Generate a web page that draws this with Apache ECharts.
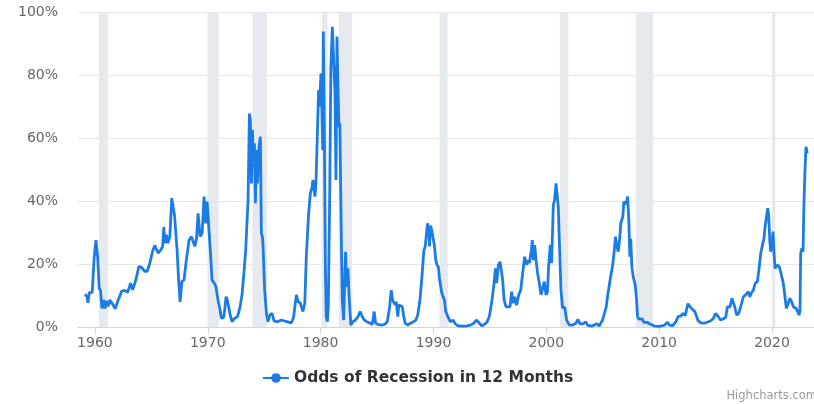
<!DOCTYPE html>
<html>
<head>
<meta charset="utf-8">
<script src="https://cdn.jsdelivr.net/npm/echarts@6/dist/echarts.min.js"></script>
<style>
  html, body { margin: 0; padding: 0; background: #ffffff; }
  #chart { width: 814px; height: 404px; }
</style>
</head>
<body>
<div id="chart"></div>
<script>
// Odds of a US recession within 12 months (%), by decimal year
const dates = [
  1959.12, 1959.3, 1959.38, 1959.5, 1959.76, 1959.94, 1960.09, 1960.24, 1960.38, 1960.5,
  1960.62, 1960.77, 1960.9, 1961.03, 1961.2, 1961.33, 1961.56, 1961.8, 1962.06, 1962.36,
  1962.65, 1962.9, 1963.16, 1963.34, 1963.63, 1963.9, 1964.13, 1964.42, 1964.63, 1964.87,
  1965.1, 1965.3, 1965.46, 1965.6, 1965.84, 1966.0, 1966.1, 1966.22, 1966.34, 1966.46,
  1966.64, 1966.81, 1966.9, 1967.05, 1967.15, 1967.28, 1967.43, 1967.55, 1967.7, 1967.9,
  1968.1, 1968.35, 1968.55, 1968.85, 1969.0, 1969.14, 1969.32, 1969.5, 1969.67, 1969.82,
  1969.94, 1970.09, 1970.24, 1970.38, 1970.56, 1970.71, 1970.91, 1971.09, 1971.2, 1971.4,
  1971.5, 1971.62, 1971.73, 1971.86, 1971.97, 1972.15, 1972.39, 1972.63, 1972.86, 1973.04,
  1973.2, 1973.36, 1973.45, 1973.57, 1973.69, 1973.78, 1973.87, 1973.96, 1974.04, 1974.13,
  1974.22, 1974.31, 1974.4, 1974.51, 1974.66, 1974.75, 1974.84, 1974.9, 1975.04, 1975.2,
  1975.34, 1975.51, 1975.7, 1975.87, 1976.2, 1976.5, 1976.8, 1977.0, 1977.4, 1977.6,
  1977.85, 1978.0, 1978.2, 1978.43, 1978.6, 1978.73, 1978.8, 1978.94, 1979.09, 1979.24,
  1979.32, 1979.44, 1979.5, 1979.59, 1979.73, 1979.82, 1979.91, 1980.03, 1980.09, 1980.18,
  1980.24, 1980.33, 1980.42, 1980.5, 1980.6, 1980.68, 1980.8, 1980.91, 1981.04, 1981.15,
  1981.27, 1981.36, 1981.45, 1981.53, 1981.62, 1981.7, 1981.83, 1981.92, 1982.04, 1982.1,
  1982.21, 1982.3, 1982.42, 1982.54, 1982.68, 1982.86, 1983.1, 1983.33, 1983.5, 1983.68,
  1983.87, 1984.1, 1984.34, 1984.57, 1984.75, 1984.87, 1985.06, 1985.37, 1985.66, 1985.9,
  1986.1, 1986.26, 1986.37, 1986.5, 1986.6, 1986.7, 1986.84, 1986.93, 1987.08, 1987.23,
  1987.37, 1987.49, 1987.73, 1987.96, 1988.2, 1988.44, 1988.6, 1988.8, 1988.98, 1989.15,
  1989.27, 1989.38, 1989.47, 1989.56, 1989.65, 1989.74, 1989.85, 1989.97, 1990.09, 1990.2,
  1990.32, 1990.44, 1990.53, 1990.62, 1990.74, 1990.85, 1990.97, 1991.09, 1991.27, 1991.5,
  1991.74, 1991.9, 1992.15, 1992.5, 1992.88, 1993.27, 1993.57, 1993.83, 1994.07, 1994.27,
  1994.51, 1994.75, 1994.96, 1995.19, 1995.37, 1995.49, 1995.6, 1995.75, 1995.9, 1996.02,
  1996.13, 1996.26, 1996.43, 1996.6, 1996.78, 1996.93, 1997.05, 1997.2, 1997.37, 1997.55,
  1997.73, 1997.9, 1998.08, 1998.26, 1998.37, 1998.5, 1998.67, 1998.76, 1998.85, 1998.97,
  1999.09, 1999.23, 1999.38, 1999.53, 1999.68, 1999.82, 1999.97, 2000.1, 2000.2, 2000.35,
  2000.47, 2000.62, 2000.73, 2000.86, 2000.97, 2001.06, 2001.18, 2001.3, 2001.44, 2001.62,
  2001.8, 2002.04, 2002.33, 2002.6, 2002.8, 2002.98, 2003.2, 2003.5, 2003.66, 2003.96,
  2004.25, 2004.45, 2004.68, 2004.98, 2005.15, 2005.31, 2005.42, 2005.56, 2005.7, 2005.86,
  2006.0, 2006.13, 2006.25, 2006.37, 2006.5, 2006.6, 2006.78, 2006.87, 2006.96, 2007.08,
  2007.2, 2007.31, 2007.4, 2007.48, 2007.58, 2007.7, 2007.87, 2007.98, 2008.08, 2008.2,
  2008.5, 2008.63, 2008.8, 2008.97, 2009.15, 2009.3, 2009.56, 2010.0, 2010.44, 2010.74,
  2010.9, 2011.18, 2011.47, 2011.68, 2011.92, 2012.12, 2012.3, 2012.55, 2012.74, 2012.95,
  2013.16, 2013.28, 2013.45, 2013.69, 2014.0, 2014.3, 2014.57, 2014.8, 2015.0, 2015.2,
  2015.45, 2015.69, 2015.9, 2016.04, 2016.16, 2016.27, 2016.46, 2016.58, 2016.7, 2016.87,
  2017.05, 2017.22, 2017.46, 2017.64, 2017.75, 2017.9, 2018.04, 2018.16, 2018.34, 2018.52,
  2018.7, 2018.87, 2019.0, 2019.15, 2019.29, 2019.38, 2019.5, 2019.62, 2019.7, 2019.8,
  2019.88, 2020.0, 2020.09, 2020.18, 2020.27, 2020.47, 2020.65, 2020.83, 2021.0, 2021.15,
  2021.27, 2021.42, 2021.59, 2021.74, 2021.89, 2022.0, 2022.15, 2022.27, 2022.39, 2022.48,
  2022.54, 2022.65, 2022.75, 2022.83, 2022.92, 2023.01, 2023.1, 2023.13
];

const odds = [
  10.4, 9.6, 7.7, 10.9, 11.0, 22.3, 27.6, 22.3, 12.3, 11.5,
  5.9, 8.6, 5.9, 8.3, 6.6, 8.6, 7.3, 5.8, 8.6, 11.3,
  11.6, 11.0, 13.9, 11.8, 15.0, 19.3, 18.9, 17.7, 17.7, 20.3,
  24.0, 25.9, 25.6, 23.5, 24.5, 25.6, 31.7, 26.6, 29.3, 26.6,
  28.7, 40.9, 40.3, 35.6, 35.0, 24.5, 13.9, 8.0, 14.4, 15.0,
  21.3, 27.7, 28.7, 25.6, 28.0, 36.1, 28.7, 29.8, 41.4, 32.9,
  39.8, 31.8, 23.4, 14.9, 14.0, 13.0, 8.6, 5.4, 2.8, 3.0,
  5.4, 9.6, 8.6, 6.3, 4.0, 1.7, 2.8, 3.3, 6.3, 10.5,
  17.0, 24.4, 25.0, 40.3, 67.8, 65.6, 45.6, 62.5, 50.9, 58.3,
  39.3, 56.2, 45.6, 56.2, 60.4, 29.7, 28.7, 25.6, 11.7, 4.3,
  1.7, 3.9, 4.3, 1.9, 1.7, 2.2, 1.9, 1.7, 1.3, 3.0,
  10.2, 8.1, 7.6, 4.9, 7.6, 22.3, 22.3, 36.1, 42.4, 44.4,
  46.7, 46.3, 41.4, 45.9, 63.6, 75.2, 69.9, 80.5, 73.0, 56.2,
  93.8, 61.6, 19.1, 3.3, 1.7, 6.4, 40.3, 82.6, 95.3, 94.7,
  74.2, 46.7, 92.2, 77.5, 63.6, 64.7, 29.7, 8.6, 2.2, 2.2,
  23.9, 12.8, 18.6, 8.6, 0.6, 1.7, 2.2, 3.4, 4.9, 3.4,
  2.2, 1.7, 1.3, 0.8, 4.9, 1.3, 0.8, 0.6, 0.8, 1.6,
  5.9, 11.7, 8.6, 8.6, 7.0, 8.0, 3.3, 7.0, 6.5, 6.5,
  3.3, 1.2, 0.6, 1.2, 1.6, 2.2, 3.7, 8.6, 16.0, 24.4,
  25.6, 29.7, 32.9, 31.7, 25.6, 32.2, 30.7, 31.2, 25.6, 21.3,
  19.7, 19.0, 15.4, 14.8, 10.7, 10.2, 8.6, 4.9, 3.3, 1.6,
  2.2, 1.2, 0.4, 0.3, 0.3, 0.6, 1.2, 2.2, 1.2, 0.4,
  0.8, 1.6, 3.5, 8.6, 13.9, 18.6, 13.9, 19.7, 20.7, 20.3,
  14.9, 8.6, 6.4, 6.9, 6.4, 11.2, 7.6, 9.6, 6.9, 10.2,
  11.7, 17.0, 22.3, 19.7, 21.2, 20.3, 24.4, 27.6, 21.2, 26.0,
  21.2, 17.0, 13.9, 10.2, 10.7, 14.4, 10.2, 11.0, 19.2, 26.1,
  20.3, 38.7, 40.3, 45.6, 46.2, 38.2, 24.4, 11.7, 6.0, 6.4,
  2.2, 0.6, 0.6, 1.1, 2.4, 1.1, 0.9, 1.6, 0.6, 0.3,
  0.6, 1.1, 0.3, 2.2, 4.3, 6.4, 9.6, 12.8, 16.0, 19.1,
  23.4, 28.7, 25.5, 23.9, 28.0, 33.0, 35.0, 39.8, 40.3, 39.0,
  41.4, 34.0, 22.3, 28.0, 19.1, 15.9, 13.5, 9.5, 3.3, 2.5,
  2.6, 1.5, 2.0, 1.5, 1.0, 0.6, 0.3, 0.2, 0.5, 1.5,
  0.6, 0.4, 1.6, 3.3, 3.5, 4.3, 3.6, 7.4, 6.4, 5.6,
  4.9, 5.4, 2.0, 1.3, 1.2, 1.6, 2.0, 2.7, 4.3, 3.5,
  2.2, 2.6, 3.1, 6.4, 5.9, 6.4, 9.1, 8.6, 6.4, 3.8,
  4.3, 6.4, 9.6, 10.1, 9.6, 11.2, 9.6, 10.7, 11.7, 13.9,
  14.4, 19.1, 23.4, 26.0, 28.2, 31.8, 32.3, 37.7, 35.6, 27.6,
  23.9, 26.6, 30.3, 23.4, 18.6, 19.7, 19.1, 16.5, 13.9, 9.6,
  5.9, 6.4, 9.1, 8.0, 6.4, 6.9, 5.9, 4.9, 3.8, 5.0,
  23.4, 25.0, 23.9, 39.3, 49.7, 57.2, 56.7, 55.1
];

// NBER recession periods (decimal years)
const recessionStarts = [1960.35, 1969.97, 1973.95, 1980.1, 1981.6, 1990.53, 2001.2, 2007.94, 2020.0];
const recessionEnds   = [1961.15, 1970.97, 1975.25, 1980.6, 1982.8, 1991.27, 2001.95, 2009.47, 2020.3];

const xTickYears = [1960, 1970, 1980, 1990, 2000, 2010, 2020];
const yTicks = [0, 20, 40, 60, 80, 100];

const seriesName = 'Odds of Recession in 12 Months';
const lineColor = '#1b7ce6';
const fontFamily = '"DejaVu Sans", "Lucida Grande", sans-serif';

const seriesData = dates.map((d, i) => [d, odds[i]]);
const bands = recessionStarts.map((s, i) => [{ xAxis: s }, { xAxis: recessionEnds[i] }]);

const chart = echarts.init(document.getElementById('chart'), null, { renderer: 'canvas' });

chart.setOption({
  animation: false,
  backgroundColor: '#ffffff',
  grid: { left: 78, top: 12, width: 737, height: 315, containLabel: false },
  legend: {
    data: [seriesName],
    left: 262,
    top: 370,
    padding: 0,
    itemWidth: 26,
    itemHeight: 12,
    textStyle: { fontFamily: fontFamily, fontSize: 15.5, fontWeight: 'bold', color: '#333333' }
  },
  graphic: [{
    type: 'text',
    right: -3,
    top: 390,
    style: { text: 'Highcharts.com', fill: '#999999', font: '11.5px ' + fontFamily }
  }],
  xAxis: {
    type: 'value',
    min: 1958.5,
    max: 2023.72,
    axisLine: { show: true, lineStyle: { color: '#ccd6eb', width: 1 } },
    axisTick: { show: true, length: 7, lineStyle: { color: '#ccd6eb' }, customValues: xTickYears },
    axisLabel: {
      customValues: xTickYears,
      margin: 9,
      color: '#666666',
      fontFamily: fontFamily,
      fontSize: 14,
      formatter: v => String(v)
    },
    splitLine: { show: false }
  },
  yAxis: {
    type: 'value',
    min: 0,
    max: 100,
    interval: 20,
    axisLine: { show: false },
    axisTick: { show: false },
    axisLabel: {
      customValues: yTicks,
      margin: 20,
      color: '#666666',
      fontFamily: fontFamily,
      fontSize: 14,
      formatter: '{value}%'
    },
    splitLine: { show: true, lineStyle: { color: '#e6e6e6', width: 1 } }
  },
  series: [{
    name: seriesName,
    type: 'line',
    data: seriesData,
    showSymbol: false,
    symbol: 'circle',
    symbolSize: 9,
    itemStyle: { color: lineColor },
    lineStyle: { color: lineColor, width: 2.8 },
    z: 3,
    markArea: {
      silent: true,
      itemStyle: { color: '#e6e9ee' },
      data: bands
    }
  }]
});
</script>
</body>
</html>
